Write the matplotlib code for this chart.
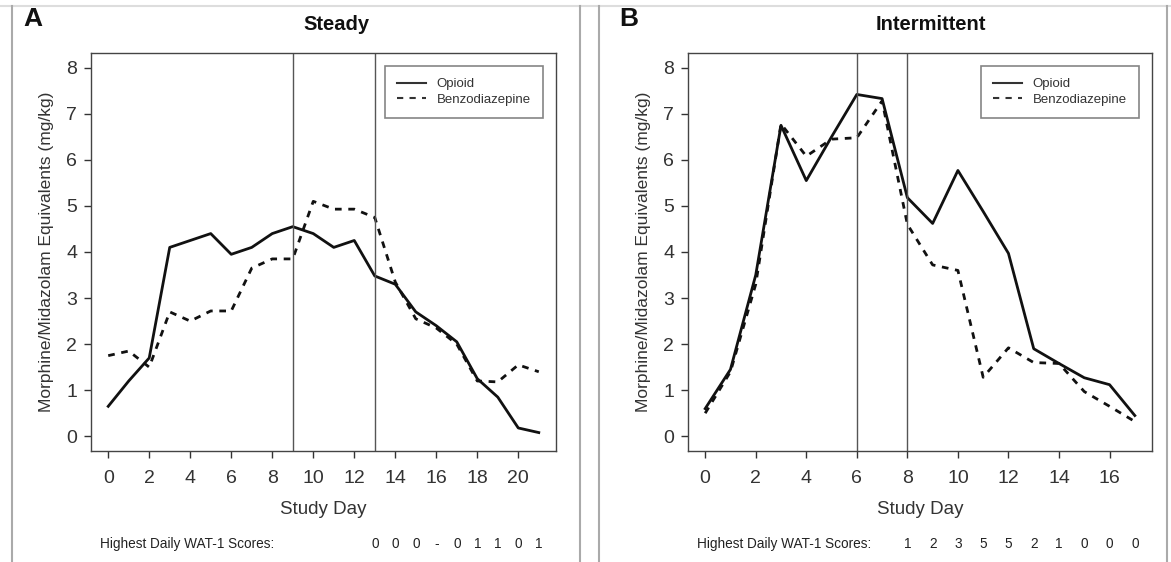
import numpy as np
import matplotlib
matplotlib.use("Agg")
import matplotlib.pyplot as plt
from matplotlib.lines import Line2D
import matplotlib.transforms as mtransforms

plt.rcParams['font.family'] = ['Liberation Sans', 'DejaVu Sans']

# Panel A - steady weaning (study days 0..21)
steady_days = list(range(22))
steady_opioid = [0.65, 1.2, 1.7, 4.1, 4.25, 4.4, 3.95, 4.1, 4.4, 4.55, 4.4,
                 4.1, 4.25, 3.48, 3.3, 2.7, 2.4, 2.05, 1.25, 0.85, 0.18, 0.08]
steady_benzo = [1.75, 1.85, 1.5, 2.7, 2.5, 2.72, 2.72, 3.65, 3.85, 3.85, 5.1,
                4.93, 4.93, 4.75, 3.35, 2.55, 2.35, 2.0, 1.2, 1.18, 1.55, 1.4]
steady_vlines = [9, 13]
steady_wat_days = [13, 14, 15, 16, 17, 18, 19, 20, 21]
steady_wat = ['0', '0', '0', '-', '0', '1', '1', '0', '1']

# Panel B - intermittent weaning (study days 0..17)
inter_days = list(range(18))
inter_opioid = [0.6, 1.45, 3.5, 6.75, 5.55, 6.5, 7.42, 7.33, 5.18, 4.62, 5.77,
                4.88, 3.97, 1.9, 1.58, 1.27, 1.12, 0.45]
inter_benzo = [0.5, 1.4, 3.3, 6.78, 6.08, 6.45, 6.48, 7.28, 4.6, 3.72, 3.6,
               1.28, 1.92, 1.6, 1.58, 0.97, 0.65, 0.32]
inter_vlines = [6, 8]
inter_wat_days = [8, 9, 10, 11, 12, 13, 14, 15, 16, 17]
inter_wat = ['1', '2', '3', '5', '5', '2', '1', '0', '0', '0']

W, H = 1171, 562
fig = plt.figure(figsize=(W / 100, H / 100), dpi=100)


def px_rect(left, top, right, bottom):
    return [left / W, 1 - bottom / H, (right - left) / W, (bottom - top) / H]


def draw_panel(ax, days, opioid, benzo, vlines, wat_days, wat, xticks,
               title, title_x, letter, letter_x, wat_label_x):
    ax.plot(days, opioid, color='#111111', lw=2.0, solid_joinstyle='round')
    ax.plot(days, benzo, color='#111111', lw=2.0, dashes=(2.4, 2.4))
    for v in vlines:
        ax.axvline(v, color='#555555', lw=1.0)
    n = days[-1]
    ax.set_xlim(-0.04 * n, n * 1.04)
    ax.set_ylim(-0.32, 8.32)
    ax.set_xticks(xticks)
    ax.set_yticks(range(9))
    ax.tick_params(labelsize=14, colors='#333333', length=5, width=1,
                   pad=9)
    ax.tick_params(axis='y', pad=5)
    for s in ax.spines.values():
        s.set_color('#444444')
        s.set_linewidth(1.0)
    ax.set_xlabel('Study Day', fontsize=13.5, color='#333333', labelpad=10)
    ax.set_ylabel('Morphine/Midazolam Equivalents (mg/kg)', fontsize=12.5,
                  color='#333333', labelpad=9)
    handles = [Line2D([], [], color='#333333', lw=1.5),
               Line2D([], [], color='#333333', lw=1.5, dashes=(3, 3))]
    leg = ax.legend(handles, ['Opioid', 'Benzodiazepine'], loc='upper right',
                    fontsize=9.5, frameon=True, fancybox=False,
                    edgecolor='#666666', handlelength=2.2,
                    borderaxespad=1.0, borderpad=0.9, labelspacing=0.25)
    leg.get_frame().set_linewidth(1.2)
    for t in leg.get_texts():
        t.set_color('#333333')

    fig.text(title_x / W, 1 - 25 / H, title, fontsize=14.5, fontweight='bold',
             ha='center', va='center', color='#111111')
    fig.text(letter_x / W, 1 - 19 / H, letter, fontsize=19,
             fontweight='bold', ha='center', va='center', color='#111111')

    # WAT-1 scores row under the axis
    trans = mtransforms.blended_transform_factory(ax.transData,
                                                  fig.transFigure)
    fig.text(wat_label_x / W, 1 - 544 / H, 'Highest Daily WAT-1 Scores:',
             fontsize=9.8, ha='left', va='center', color='#222222')
    for d, s in zip(wat_days, wat):
        ax.text(d, 1 - 544 / H, s, transform=trans, fontsize=9.8,
                ha='center', va='center', color='#222222', clip_on=False)


ax_a = fig.add_axes(px_rect(91, 53, 556, 451))
draw_panel(ax_a, steady_days, steady_opioid, steady_benzo, steady_vlines,
           steady_wat_days, steady_wat, range(0, 21, 2),
           'Steady', 336, 'A', 33, 100)

ax_b = fig.add_axes(px_rect(688, 53, 1152, 451))
draw_panel(ax_b, inter_days, inter_opioid, inter_benzo, inter_vlines,
           inter_wat_days, inter_wat, range(0, 17, 2),
           'Intermittent', 931, 'B', 629, 697)

# panel frame lines
frame_kw = dict(transform=fig.transFigure, color='#aaaaaa', lw=1.5)
fig.add_artist(Line2D([0, 1], [1 - 6 / H, 1 - 6 / H], color='#dddddd',
                      lw=1.5, transform=fig.transFigure))
for x in [12, 580, 599, 1167]:
    fig.add_artist(Line2D([x / W, x / W], [0, 1 - 6 / H], **frame_kw))

fig.savefig('out.png', dpi=100)
